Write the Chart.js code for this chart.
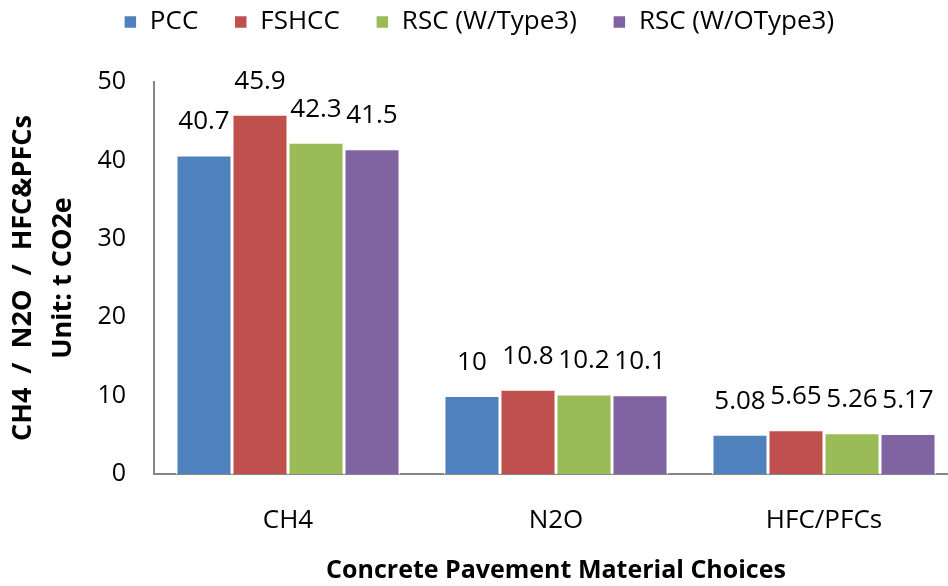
<!DOCTYPE html>
<html>
<head>
<meta charset="utf-8">
<title>GHG emissions by pavement material</title>
<script src="https://cdn.jsdelivr.net/npm/chart.js@4.4.1/dist/chart.umd.min.js"></script>
<style>
    html, body { margin: 0; padding: 0; background: #fff; overflow: hidden; }
    #wrap { width: 958px; height: 586px; }
</style>
</head>
<body>
<div id="wrap"><canvas id="grafica" width="958" height="586"></canvas></div>
<script>
// categorias y series
const categories = ['CH4', 'N2O', 'HFC/PFCs'];
const seriesNames = ['PCC', 'FSHCC', 'RSC (W/Type3)', 'RSC (W/OType3)'];
const pcc = [40.7, 10, 5.08];
const fshcc = [45.9, 10.8, 5.65];
const rscType3 = [42.3, 10.2, 5.26];
const rscNoType3 = [41.5, 10.1, 5.17];
const yTicks = [0, 10, 20, 30, 40, 50];

const colores = ['#4F81BD', '#C0504D', '#9BBB59', '#8064A2'];
const FUENTE = '"Open Sans", "Noto Sans", sans-serif';

// etiquetas de valor encima de cada barra
const etiquetasValor = {
    id: 'etiquetasValor',
    afterDatasetsDraw(chart) {
        const ctx = chart.ctx;
        ctx.save();
        ctx.font = '26px ' + FUENTE;
        ctx.fillStyle = '#000';
        ctx.textAlign = 'center';
        ctx.textBaseline = 'middle';
        chart.data.datasets.forEach((ds, i) => {
            chart.getDatasetMeta(i).data.forEach((bar, j) => {
                ctx.fillText(String(ds.data[j]), bar.x, bar.y - 33);
            });
        });
        ctx.restore();
    }
};

const series = [pcc, fshcc, rscType3, rscNoType3];

new Chart(document.getElementById('grafica'), {
    type: 'bar',
    data: {
        labels: categories,
        datasets: series.map((d, i) => ({
            label: seriesNames[i],
            data: d,
            backgroundColor: colores[i],
            borderColor: '#fff',
            borderWidth: 1.5,
            categoryPercentage: 0.836,
            barPercentage: 1
        }))
    },
    options: {
        responsive: false,
        animation: false,
        layout: { padding: { top: -27, left: 0, right: 0, bottom: 0 } },
        plugins: {
            legend: {
                position: 'top',
                labels: {
                    boxWidth: 13,
                    boxHeight: 13,
                    padding: 36,
                    color: '#000',
                    font: { size: 26, family: FUENTE }
                }
            },
            // espaciador bajo la leyenda
            subtitle: {
                display: true,
                text: ' ',
                weight: 500,
                font: { size: 10, lineHeight: 1 },
                padding: { top: 0, bottom: 27 }
            },
            tooltip: { enabled: false }
        },
        scales: {
            x: {
                grid: { display: false, drawTicks: false },
                border: { color: '#868686', width: 2 },
                ticks: { color: '#000', padding: 31, font: { size: 26, family: FUENTE } },
                title: {
                    display: true,
                    text: 'Concrete Pavement Material Choices',
                    color: '#000',
                    font: { size: 25, weight: 'bold', family: FUENTE },
                    padding: { top: 22, bottom: 0 }
                },
                afterFit: (s) => { s.height = 112; }
            },
            y: {
                min: 0,
                max: 50,
                grid: { display: false, drawTicks: false },
                border: { color: '#868686', width: 2 },
                afterBuildTicks: (s) => { s.ticks = yTicks.map(v => ({ value: v })); },
                ticks: { color: '#000', padding: 28, font: { size: 25, family: FUENTE } },
                title: {
                    display: true,
                    text: ['CH4  /  N2O  /  HFC&PFCs', 'Unit: t CO2e'],
                    color: '#000',
                    font: { size: 27, weight: 'bold', family: FUENTE, lineHeight: 1.48 },
                    padding: { top: 3, bottom: 10 }
                },
                afterFit: (s) => { s.width = 154; }
            }
        }
    },
    plugins: [etiquetasValor]
});
</script>
</body>
</html>
